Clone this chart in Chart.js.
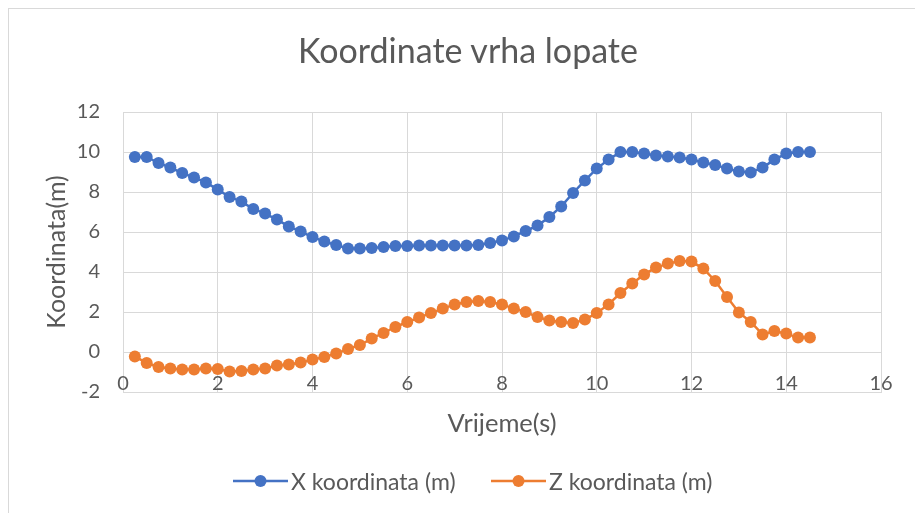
<!DOCTYPE html>
<html>
<head>
<meta charset="utf-8">
<script src="https://cdn.jsdelivr.net/npm/chart.js@4"></script>
<style>
  html, body { margin: 0; padding: 0; background: #fff; }
  #wrap { position: relative; width: 915px; height: 513px; overflow: hidden; font-family: Lato, "Open Sans", sans-serif; color: #595959; }
  #frame { position: absolute; left: 8px; top: 8px; width: 930px; height: 530px; border: 1px solid #d9d9d9; box-sizing: border-box; }
  #chart { position: absolute; left: 0; top: 0; }
  #title { position: absolute; left: 268px; width: 400px; top: 33px; text-align: center; font-size: 34px; line-height: 34px; white-space: nowrap; }
  #legend { position: absolute; top: 468px; left: 0; width: 915px; height: 26px; font-size: 23px; }
  #legend span.item { position: absolute; top: 0; display: flex; align-items: center; gap: 3px; height: 26px; }
</style>
</head>
<body>
<div id="wrap">
  <div id="frame"></div>
  <canvas id="chart" width="915" height="513"></canvas>
  <div id="title"></div>
  <div id="legend"></div>
</div>
<script>
// time samples (s)
var TIMES = [0.25, 0.5, 0.75, 1, 1.25, 1.5, 1.75, 2, 2.25, 2.5, 2.75, 3, 3.25, 3.5, 3.75, 4,
  4.25, 4.5, 4.75, 5, 5.25, 5.5, 5.75, 6, 6.25, 6.5, 6.75, 7, 7.25, 7.5, 7.75, 8,
  8.25, 8.5, 8.75, 9, 9.25, 9.5, 9.75, 10, 10.25, 10.5, 10.75, 11, 11.25, 11.5, 11.75, 12,
  12.25, 12.5, 12.75, 13, 13.25, 13.5, 13.75, 14, 14.25, 14.5];

var X_COORD = [9.75, 9.75, 9.45, 9.22, 8.95, 8.72, 8.48, 8.12, 7.75, 7.52, 7.15, 6.92, 6.62, 6.28, 6.02, 5.75,
  5.52, 5.35, 5.18, 5.18, 5.2, 5.25, 5.3, 5.3, 5.32, 5.32, 5.32, 5.32, 5.32, 5.35, 5.45, 5.58,
  5.78, 6.05, 6.32, 6.75, 7.28, 7.95, 8.58, 9.17, 9.62, 10.0, 10.0, 9.92, 9.83, 9.78, 9.72, 9.62,
  9.48, 9.35, 9.18, 9.02, 8.98, 9.22, 9.62, 9.92, 10.0, 10.0];

var Z_COORD = [-0.22, -0.55, -0.75, -0.82, -0.88, -0.88, -0.82, -0.85, -0.98, -0.95, -0.88, -0.82, -0.68, -0.62, -0.52, -0.38,
  -0.25, -0.08, 0.15, 0.35, 0.67, 0.95, 1.25, 1.5, 1.72, 1.95, 2.17, 2.38, 2.5, 2.55, 2.5, 2.38,
  2.17, 2.0, 1.75, 1.58, 1.5, 1.45, 1.62, 1.95, 2.38, 2.95, 3.42, 3.88, 4.22, 4.42, 4.55, 4.52,
  4.17, 3.55, 2.75, 1.98, 1.5, 0.88, 1.05, 0.92, 0.72, 0.72];

var SERIES_NAMES = ['X koordinata (m)', 'Z koordinata (m)'];
var TITLE = 'Koordinate vrha lopate';
var X_TITLE = 'Vrijeme(s)';
var Y_TITLE = 'Koordinata(m)';

(function() {
  var FONT = 'Lato, "Open Sans", sans-serif';
  var GREY = '#595959';
  var GRID = '#d9d9d9';
  var COLORS = ['#4472c4', '#ed7d31'];

  function pts(ys) {
    return TIMES.map(function(t, i) { return { x: t, y: ys[i] }; });
  }

  var datasets = [X_COORD, Z_COORD].map(function(ys, i) {
    return {
      label: SERIES_NAMES[i],
      data: pts(ys),
      showLine: true,
      borderColor: COLORS[i],
      backgroundColor: COLORS[i],
      borderWidth: 2.5,
      pointRadius: 6,
      pointBorderWidth: 0,
      pointHoverRadius: 6
    };
  });

  document.getElementById('title').textContent = TITLE;

  // legend like Excel: line with a marker
  var legendPos = [233, 491];
  var el = document.getElementById('legend');
  SERIES_NAMES.forEach(function(name, i) {
    var item = document.createElement('span');
    item.className = 'item';
    item.style.left = legendPos[i] + 'px';
    item.innerHTML =
      '<svg width="55" height="14" aria-hidden="true">' +
        '<line x1="0" y1="7" x2="55" y2="7" stroke="' + COLORS[i] + '" stroke-width="2.5"/>' +
        '<circle cx="27.5" cy="7" r="6" fill="' + COLORS[i] + '"/>' +
      '</svg><span>' + name + '</span>';
    el.appendChild(item);
  });

  // Excel puts the x labels just above the bottom gridline, inside the plot
  var insideXLabels = {
    id: 'insideXLabels',
    afterDraw: function(chart) {
      var sx = chart.scales.x, ctx = chart.ctx;
      ctx.save();
      ctx.font = '20px ' + FONT;
      ctx.fillStyle = GREY;
      ctx.textAlign = 'center';
      ctx.textBaseline = 'alphabetic';
      sx.ticks.forEach(function(t) {
        ctx.fillText(String(t.value), sx.getPixelForValue(t.value), chart.chartArea.bottom - 2);
      });
      ctx.restore();
    }
  };

  new Chart(document.getElementById('chart'), {
    type: 'scatter',
    data: { datasets: datasets },
    plugins: [insideXLabels],
    options: {
      responsive: false,
      animation: false,
      layout: { padding: { left: 0, right: 34, top: 112, bottom: 0 } },
      plugins: {
        legend: { display: false },
        tooltip: { enabled: false },
        title: { display: false }
      },
      scales: {
        x: {
          type: 'linear',
          min: 0, max: 16,
          afterFit: function(s) { s.height = 121; },
          grid: { color: GRID, drawTicks: false },
          border: { color: GRID },
          ticks: { stepSize: 2, display: false },
          title: {
            display: true,
            text: X_TITLE,
            color: GREY,
            font: { family: FONT, size: 25.5, lineHeight: 1.2 },
            padding: { top: 0, bottom: 74 }
          }
        },
        y: {
          min: -2, max: 12,
          afterFit: function(s) { s.width = 123; },
          grid: { color: GRID, drawTicks: false },
          border: { color: GRID },
          ticks: {
            stepSize: 2,
            padding: 23,
            color: GREY,
            font: { family: FONT, size: 20 }
          },
          title: {
            display: true,
            text: Y_TITLE,
            color: GREY,
            font: { family: FONT, size: 25, lineHeight: 1.2 },
            padding: { top: 42, bottom: 0 }
          }
        }
      }
    }
  });
})();
</script>
</body>
</html>
